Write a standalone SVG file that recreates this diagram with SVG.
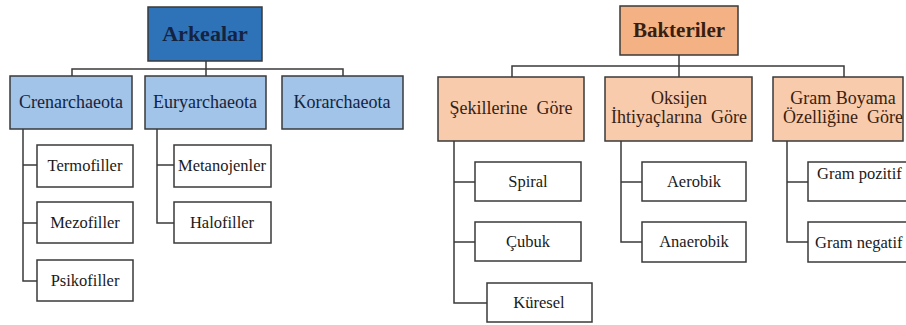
<svg xmlns="http://www.w3.org/2000/svg" width="906" height="325" viewBox="0 0 906 325">
<style>
text{text-anchor:middle;}
.box{stroke:#3a3a3a;stroke-width:1.5;}
.rootA{fill:#2E72B8;}
.lvlA{fill:#A2C4E8;}
.rootB{fill:#F4B183;}
.lvlB{fill:#F8CBAD;}
.leaf{fill:#FFFFFF;}
.tRoot{font-size:22px;font-weight:bold;}
.tA{fill:#14233F;}
.tB{fill:#3A1E10;}
.tLvl{font-size:18px;}
.tLeaf{font-size:16.5px;fill:#1a1a1a;}
.conn{fill:none;stroke:#3a3a3a;stroke-width:1.5;}
</style>
<rect width="906" height="325" fill="#FFFFFF"/>
<g id="connectors">
<path class="conn" d="M206,61V69M72,76V69H343V76M206,69V76"/>
<path class="conn" d="M23,129V281H37M23,165H37M23,223H37"/>
<path class="conn" d="M157,129V223H174M157,165H174"/>
<path class="conn" d="M679,55V66M512,77V66H844V77M679,66V77"/>
<path class="conn" d="M454,141V303H487M454,182H475M454,242H475"/>
<path class="conn" d="M621,141V242H642M621,182H642"/>
<path class="conn" d="M787,141V242H808M787,182H808"/>
</g>
<g font-family="Liberation Serif, serif">
<g id="arkealar"><rect class="box rootA" x="148" y="7" width="114" height="54"/><text class="tRoot tA" x="205" y="41" font-family="Liberation Serif">Arkealar</text></g>
<g id="crenarchaeota"><rect class="box lvlA" x="10" y="76" width="122" height="53"/><text class="tLvl tA" x="71" y="108" font-family="Liberation Serif">Crenarchaeota</text></g>
<g id="euryarchaeota"><rect class="box lvlA" x="145" y="76" width="121" height="53"/><text class="tLvl tA" x="205" y="108" font-family="Liberation Serif">Euryarchaeota</text></g>
<g id="korarchaeota"><rect class="box lvlA" x="282" y="76" width="121" height="53"/><text class="tLvl tA" x="342" y="108" font-family="Liberation Serif">Korarchaeota</text></g>
<g id="termofiller"><rect class="box leaf" x="37" y="145" width="96" height="42"/><text class="tLeaf" x="85" y="171" font-family="Liberation Serif">Termofiller</text></g>
<g id="mezofiller"><rect class="box leaf" x="37" y="202" width="96" height="41"/><text class="tLeaf" x="85" y="228" font-family="Liberation Serif">Mezofiller</text></g>
<g id="psikofiller"><rect class="box leaf" x="37" y="260" width="96" height="41"/><text class="tLeaf" x="85" y="286" font-family="Liberation Serif">Psikofiller</text></g>
<g id="metanojenler"><rect class="box leaf" x="174" y="145" width="97" height="42"/><text class="tLeaf" x="222" y="171" font-family="Liberation Serif">Metanojenler</text></g>
<g id="halofiller"><rect class="box leaf" x="174" y="202" width="97" height="41"/><text class="tLeaf" x="222" y="228" font-family="Liberation Serif">Halofiller</text></g>
<g id="bakteriler"><rect class="box rootB" x="620" y="6" width="118" height="49"/><text class="tRoot tB" x="679" y="37" font-family="Liberation Serif" style="font-size:21px">Bakteriler</text></g>
<g id="sekillerine"><rect class="box lvlB" x="438" y="77" width="146" height="64"/><text class="tLvl tB" x="511" y="114" font-family="Liberation Serif" xml:space="preserve">Şekillerine  Göre</text></g>
<g id="oksijen"><rect class="box lvlB" x="605" y="77" width="147" height="64"/><text class="tLvl tB" x="679" y="104" font-family="Liberation Serif">Oksijen</text><text class="tLvl tB" x="679" y="123" font-family="Liberation Serif" xml:space="preserve">İhtiyaçlarına  Göre</text></g>
<g id="gram-boyama"><rect class="box lvlB" x="773" y="77" width="130" height="64"/><text class="tLvl tB" x="843" y="104" font-family="Liberation Serif">Gram Boyama</text><text class="tLvl tB" x="843" y="123" font-family="Liberation Serif" xml:space="preserve">Özelliğine  Göre</text></g>
<g id="spiral"><rect class="box leaf" x="475" y="162" width="106" height="39"/><text class="tLeaf" x="528" y="187" font-family="Liberation Serif">Spiral</text></g>
<g id="cubuk"><rect class="box leaf" x="475" y="222" width="106" height="39"/><text class="tLeaf" x="528" y="247" font-family="Liberation Serif">Çubuk</text></g>
<g id="kuresel"><rect class="box leaf" x="487" y="283" width="105" height="39"/><text class="tLeaf" x="539" y="308" font-family="Liberation Serif">Küresel</text></g>
<g id="aerobik"><rect class="box leaf" x="642" y="162" width="104" height="39"/><text class="tLeaf" x="694" y="187" font-family="Liberation Serif">Aerobik</text></g>
<g id="anaerobik"><rect class="box leaf" x="642" y="222" width="104" height="40"/><text class="tLeaf" x="694" y="247" font-family="Liberation Serif">Anaerobik</text></g>
<g id="gram-pozitif"><rect class="box leaf" x="808" y="162" width="102" height="39"/><text class="tLeaf" x="817" y="179" font-family="Liberation Serif" style="text-anchor:start">Gram pozitif</text></g>
<g id="gram-negatif"><rect class="box leaf" x="808" y="222" width="102" height="40"/><text class="tLeaf" x="815" y="248" font-family="Liberation Serif" style="text-anchor:start">Gram negatif</text></g>
</g>
</svg>
